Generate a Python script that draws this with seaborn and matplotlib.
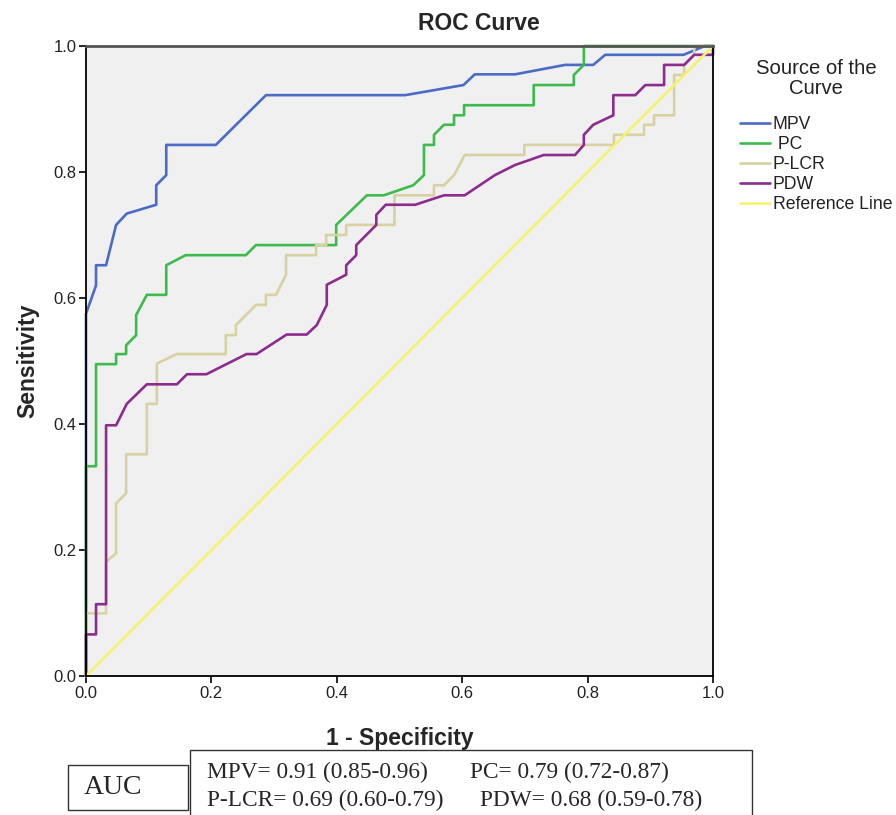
import matplotlib
matplotlib.use("Agg")
import matplotlib.pyplot as plt
from matplotlib.patches import Rectangle
import seaborn as sns
import pandas as pd

# ---- data ----
series_names = ["MPV", " PC", "P-LCR", "PDW", "Reference Line"]
series_colors = ["#4A6CC6", "#3DBB4C", "#D8D1A2", "#8C2C8E", "#F5F36E"]

mpv_x = [0, 0, 0.016, 0.016, 0.032, 0.048, 0.065, 0.112, 0.112, 0.128, 0.128, 0.207, 0.287,
         0.509, 0.602, 0.620, 0.684, 0.764, 0.809, 0.828, 0.953, 0.987, 1.0]
mpv_y = [0, 0.575, 0.62, 0.652, 0.652, 0.716, 0.734, 0.748, 0.779, 0.795, 0.843, 0.843, 0.922,
         0.922, 0.938, 0.955, 0.955, 0.970, 0.970, 0.986, 0.986, 1.0, 1.0]

pc_x = [0, 0, 0.016, 0.016, 0.048, 0.048, 0.064, 0.064, 0.080, 0.080, 0.097, 0.128, 0.128,
        0.159, 0.255, 0.271, 0.399, 0.399, 0.448, 0.475, 0.522, 0.539, 0.539, 0.555, 0.555,
        0.571, 0.587, 0.587, 0.603, 0.603, 0.714, 0.714, 0.778, 0.778, 0.794, 0.794, 1.0]
pc_y = [0, 0.333, 0.333, 0.495, 0.495, 0.511, 0.511, 0.525, 0.541, 0.573, 0.605, 0.605, 0.652,
        0.668, 0.668, 0.684, 0.684, 0.716, 0.763, 0.763, 0.779, 0.795, 0.843, 0.843, 0.859,
        0.875, 0.875, 0.890, 0.890, 0.906, 0.906, 0.938, 0.938, 0.954, 0.970, 1.0, 1.0]

plcr_x = [0, 0, 0.032, 0.032, 0.048, 0.048, 0.064, 0.064, 0.097, 0.097, 0.113, 0.113, 0.145,
          0.223, 0.223, 0.239, 0.239, 0.271, 0.287, 0.287, 0.303, 0.319, 0.319, 0.367, 0.367,
          0.383, 0.383, 0.415, 0.415, 0.492, 0.492, 0.555, 0.555, 0.571, 0.587, 0.604, 0.699,
          0.699, 0.842, 0.842, 0.890, 0.890, 0.906, 0.906, 0.938, 0.938, 0.954, 0.954, 0.970,
          0.970, 1.0]
plcr_y = [0, 0.0995, 0.0995, 0.181, 0.195, 0.274, 0.290, 0.352, 0.352, 0.432, 0.432, 0.496, 0.511,
          0.511, 0.541, 0.541, 0.557, 0.589, 0.589, 0.605, 0.605, 0.637, 0.668, 0.668, 0.684,
          0.684, 0.700, 0.700, 0.716, 0.716, 0.763, 0.763, 0.779, 0.779, 0.795, 0.827, 0.827,
          0.843, 0.843, 0.859, 0.859, 0.875, 0.875, 0.890, 0.890, 0.954, 0.954, 0.970, 0.986,
          1.0, 1.0]

pdw_x = [0, 0, 0.016, 0.016, 0.032, 0.032, 0.048, 0.065, 0.097, 0.145, 0.161, 0.192, 0.256,
         0.272, 0.320, 0.352, 0.368, 0.384, 0.384, 0.415, 0.415, 0.431, 0.431, 0.463, 0.463,
         0.478, 0.525, 0.571, 0.604, 0.652, 0.684, 0.730, 0.780, 0.794, 0.794, 0.809, 0.841,
         0.841, 0.876, 0.892, 0.922, 0.922, 0.954, 0.970, 1.0, 1.0]
pdw_y = [0, 0.066, 0.066, 0.114, 0.114, 0.398, 0.398, 0.432, 0.463, 0.463, 0.479, 0.479, 0.511,
         0.511, 0.542, 0.542, 0.557, 0.589, 0.621, 0.637, 0.652, 0.668, 0.684, 0.716, 0.732,
         0.748, 0.748, 0.763, 0.763, 0.795, 0.811, 0.827, 0.827, 0.843, 0.859, 0.875, 0.890,
         0.922, 0.922, 0.938, 0.938, 0.970, 0.970, 0.986, 0.986, 1.0]

ref_x = [0, 1]
ref_y = [0, 1]

tick_values = [0.0, 0.2, 0.4, 0.6, 0.8, 1.0]
tick_labels = ["0.0", "0.2", "0.4", "0.6", "0.8", "1.0"]

legend_title = ["Source of the", "Curve"]
auc_label = "AUC"
auc_line1 = ["MPV= 0.91 (0.85-0.96)", "PC= 0.79 (0.72-0.87)"]
auc_line2 = ["P-LCR= 0.69 (0.60-0.79)", "PDW= 0.68 (0.59-0.78)"]

# ---- build long table ----
frames = []
for name, xs, ys in zip(series_names,
                        [mpv_x, pc_x, plcr_x, pdw_x, ref_x],
                        [mpv_y, pc_y, plcr_y, pdw_y, ref_y]):
    frames.append(pd.DataFrame({"x": xs, "y": ys, "curve": name}))
df = pd.concat(frames, ignore_index=True)

sns.set_theme(style="white")
plt.rcParams["font.family"] = ["Liberation Sans", "DejaVu Sans"]

W, H = 896, 815
fig = plt.figure(figsize=(W / 100, H / 100), dpi=100)
fig.patch.set_facecolor("white")
ax = fig.add_axes([86 / W, 1 - 676 / H, 627 / W, 630 / H])
ax.set_facecolor("#F0F0F0")

pal = dict(zip(series_names, series_colors))
sns.lineplot(data=df, x="x", y="y", hue="curve", hue_order=series_names, palette=pal,
             sort=False, estimator=None, units="curve", linewidth=1.9, ax=ax, legend=True)
for line in ax.lines:
    line.set_clip_on(False)

ax.set_xlim(0, 1)
ax.set_ylim(0, 1)
ax.set_xticks(tick_values)
ax.set_xticklabels(tick_labels, fontsize=12)
ax.set_yticks(tick_values)
ax.set_yticklabels(tick_labels, fontsize=12)
ax.tick_params(axis="both", direction="out", length=5, width=1.2, color="black",
               bottom=True, left=True, pad=2, labelcolor="#222222")
for sp in ax.spines.values():
    sp.set_color("black")
    sp.set_linewidth(1.3)
ax.spines["top"].set_color("#555555")
ax.spines["top"].set_linewidth(2.0)

ax.set_xlabel("1 - Specificity", fontsize=16.5, fontweight="bold", labelpad=19)
ax.set_ylabel("Sensitivity", fontsize=16.5, fontweight="bold", labelpad=10)
fig.text(479 / W, 1 - 23 / H, "ROC Curve", fontsize=16.5, fontweight="bold",
         ha="center", va="center")

# legend title as centred text
fig.text(816 / W, 1 - 69 / H, legend_title[0], fontsize=14.6, ha="center", va="center",
         color="#222222")
fig.text(816 / W, 1 - 89 / H, legend_title[1], fontsize=14.6, ha="center", va="center",
         color="#222222")

handles, labels = ax.get_legend_handles_labels()
ax.get_legend().remove()
leg = fig.legend(handles, labels, loc="upper left", bbox_to_anchor=(740 / W, 1 - 116 / H),
                 frameon=False, fontsize=12.7, handlelength=1.7, handletextpad=0.15,
                 labelspacing=0.17, borderpad=0, borderaxespad=0)
for lh in leg.get_lines():
    lh.set_linewidth(1.9)
for t in leg.get_texts():
    t.set_color("#222222")

# ---- AUC boxes ----
fig.add_artist(Rectangle((68 / W, 1 - 810 / H), 120 / W, 45 / H, transform=fig.transFigure,
                         fill=False, edgecolor="#333333", linewidth=1.0))
fig.add_artist(Rectangle((190 / W, 1 - 830 / H), 562 / W, 80 / H, transform=fig.transFigure,
                         fill=False, edgecolor="#333333", linewidth=1.0, clip_on=False))
serif = ["Liberation Serif", "DejaVu Serif"]
fig.text(113 / W, 1 - 787 / H, auc_label, family=serif, fontsize=20, ha="center", va="center")
fig.text(207 / W, 1 - 772 / H, auc_line1[0], family=serif, fontsize=16.8, ha="left", va="center")
fig.text(470 / W, 1 - 772 / H, auc_line1[1], family=serif, fontsize=16.8, ha="left", va="center")
fig.text(207 / W, 1 - 800 / H, auc_line2[0], family=serif, fontsize=16.8, ha="left", va="center")
fig.text(480 / W, 1 - 800 / H, auc_line2[1], family=serif, fontsize=16.8, ha="left", va="center")

fig.savefig("out.png", dpi=100, facecolor="white")
